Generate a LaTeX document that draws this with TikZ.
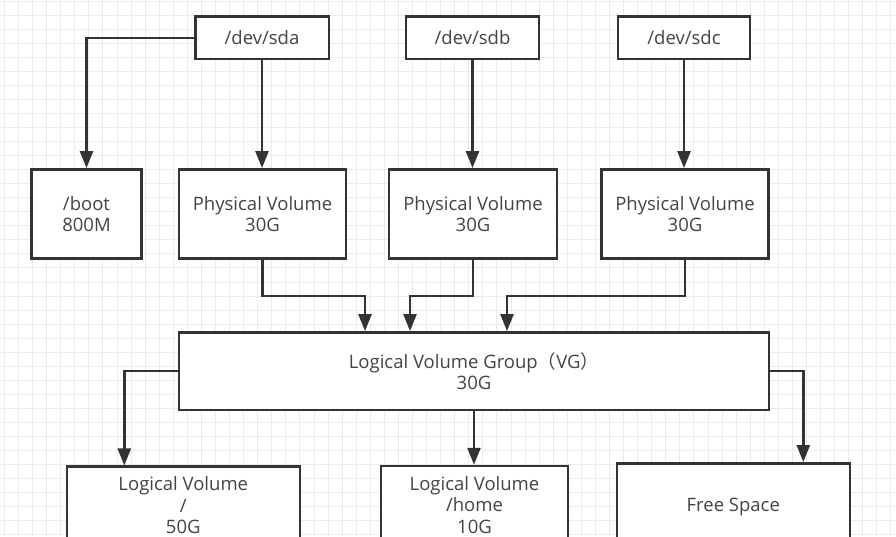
\documentclass[tikz,border=0pt]{standalone}
\usepackage{fontspec}
\setmainfont{Open Sans}
\newfontfamily\cjk{Noto Sans CJK SC}
\usetikzlibrary{arrows.meta}
\definecolor{gridc}{HTML}{EBEBEB}
\definecolor{linec}{HTML}{333333}
\definecolor{textc}{HTML}{444444}
\tikzset{
  box/.style={draw=linec, line width=2.5pt, fill=white, text=textc, align=center,
    inner sep=0pt, font=\fontsize{18.5}{21.7}\selectfont},
  arr/.style={draw=linec, line width=2.5pt, -{Triangle[length=17pt,width=13pt]}},
  gridline/.style={draw=gridc, line width=1pt}
}
\begin{document}
\begin{tikzpicture}[x=1pt,y=-1pt]
\useasboundingbox (0,0) rectangle (896,536);
\begin{scope}
\clip (0,0) rectangle (896,536);
\fill[white] (0,0) rectangle (896,536);
\foreach \i in {0,...,63} \draw[gridline] (4.5+14.07*\i,0) -- (4.5+14.07*\i,536);
\foreach \j in {0,...,38} \draw[gridline] (0,1+14.05*\j) -- (896,1+14.05*\j);

\node[box, minimum width=133.5pt, minimum height=42.5pt] (sda) at (262,37.75) {/dev/sda};
\node[box, minimum width=133pt, minimum height=42.5pt] (sdb) at (472.5,37.75) {/dev/sdb};
\node[box, minimum width=132pt, minimum height=42.5pt] (sdc) at (684,37.75) {/dev/sdc};

\node[box, minimum width=110pt, minimum height=89.4pt] (boot) at (86.5,214) {/boot\\800M};
\node[box, minimum width=167pt, minimum height=89.4pt] (pv1) at (262.5,214) {Physical Volume\\30G};
\node[box, minimum width=168pt, minimum height=89.4pt] (pv2) at (473,214) {Physical Volume\\30G};
\node[box, minimum width=167pt, minimum height=89.4pt] (pv3) at (685,214) {Physical Volume\\30G};

\node[box, minimum width=590pt, minimum height=77.7pt] (vg) at (474,371.2) {Logical Volume Group{\cjk（}VG{\cjk）}\\30G};

\node[box, minimum width=233pt, minimum height=77pt] (lv1) at (183.3,505.2) {Logical Volume\\/\\50G};
\node[box, minimum width=187pt, minimum height=78pt] (lv2) at (474.5,505) {Logical Volume\\/home\\10G};
\node[box, minimum width=233pt, minimum height=87.4pt] (free) at (733.3,507) {Free Space};

\draw[arr] (sda.west) -| (boot.north);
\draw[arr] (sda.south) -- (sda.south |- pv1.north);
\draw[arr] (sdb.south) -- (sdb.south |- pv2.north);
\draw[arr] (sdc.south) -- (sdc.south |- pv3.north);

\draw[arr] (pv1.south) -- ++(0,36) -| ([xshift=-109pt]vg.north);
\draw[arr] (pv2.south) -- ++(0,36) -| ([xshift=-64pt]vg.north);
\draw[arr] (pv3.south) -- ++(0,36) -| ([xshift=33pt]vg.north);

\draw[arr] (vg.west) -| ([xshift=-59pt]lv1.north);
\draw[arr] (vg.south) -- (vg.south |- lv2.north);
\draw[arr] (vg.east) -| ([xshift=70pt]free.north);
\end{scope}
\end{tikzpicture}
\end{document}
